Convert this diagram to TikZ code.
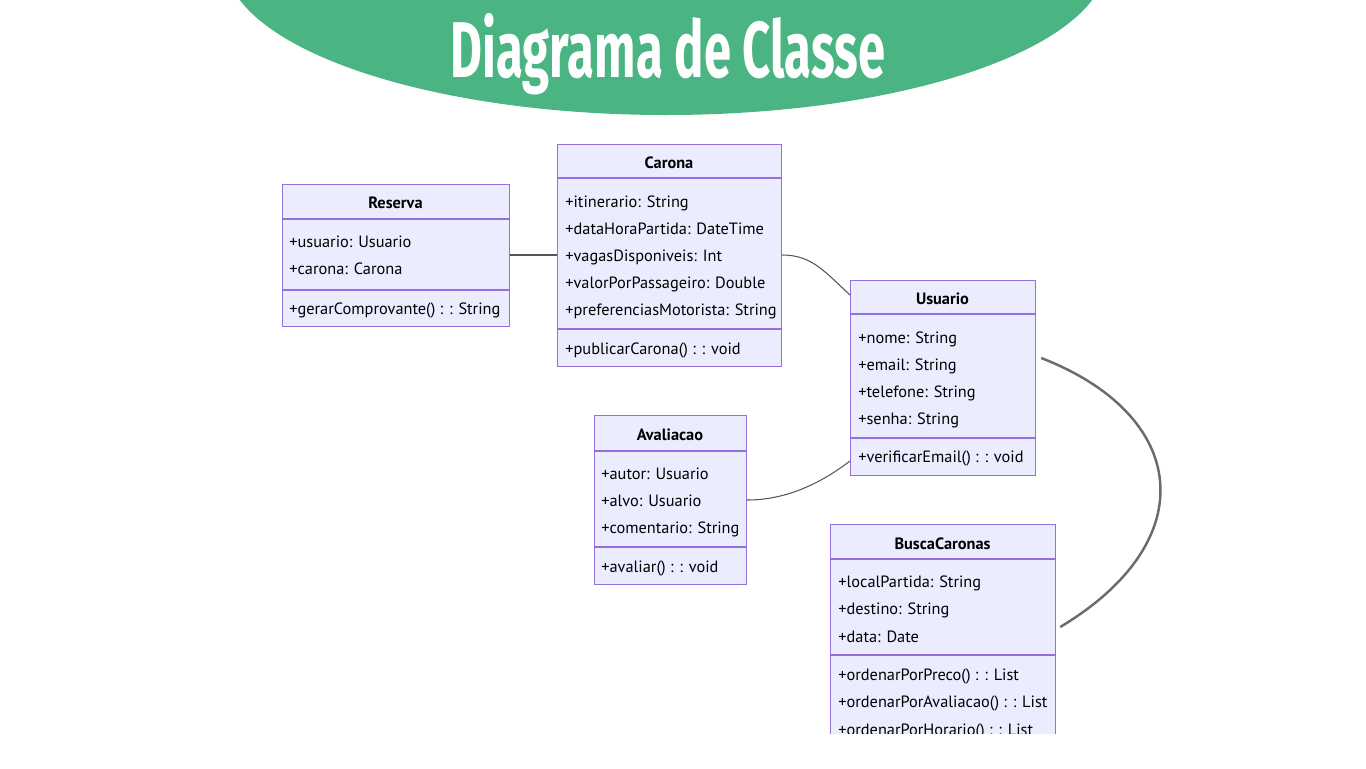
\documentclass[tikz,border=0pt]{standalone}
\usepackage{fontspec}
\setmainfont{PT Sans}
\newfontfamily\titlefont{Fira Sans}
\usetikzlibrary{positioning}

\definecolor{boxfill}{HTML}{ECECFF}
\definecolor{boxline}{HTML}{9370DB}
\definecolor{banner}{HTML}{4AB483}
\definecolor{wirecol}{HTML}{555555}
\definecolor{thickwire}{HTML}{6B6B6B}
\newcommand{\pxu}{0.02cm}

\tikzset{
  classbox/.style={draw=boxline, fill=boxfill, line width=0.7pt, inner sep=0pt, anchor=north west},
  divider/.style={draw=boxline, line width=0.7pt},
  classname/.style={anchor=base, font=\bfseries\fontsize{9.3}{11}\selectfont, inner sep=0pt},
  member/.style={anchor=base west, font=\fontsize{9.3}{11}\selectfont, inner sep=0pt},
  wire/.style={draw=wirecol, line width=0.6pt},
}

\begin{document}
\begin{tikzpicture}[x=0.02cm, y=-0.02cm]
    \useasboundingbox (0,0) rectangle (1366,768);

    % title banner
    \fill[banner] (666,-40) ellipse [x radius=441, y radius=155];
    \node[anchor=base, text=white, inner sep=0pt, font=\titlefont\bfseries\fontsize{45}{45}\selectfont] (title) at (668,77) {\scalebox{0.62}[1]{Diagrama de Classe}};

    % Reserva
    \node[classbox, minimum width=227*\pxu, minimum height=142*\pxu] (reserva) at (282,184) {};
    \node[classname] (reserva-name) at (395.5,208) {Reserva};
    \draw[divider] (reserva.west |- 0,219) -- (reserva.east |- 0,219);
    \draw[divider] (reserva.west |- 0,290) -- (reserva.east |- 0,290);
    \foreach \txt [count=\i] in {+usuario: Usuario, +carona: Carona}
        \node[member] (reserva-a\i) at (289,{247+27.5*(\i-1)}) {\txt};
    \node[member] (reserva-m1) at (289,314) {+gerarComprovante() : : String};

    % Carona
    \node[classbox, minimum width=224*\pxu, minimum height=222*\pxu] (carona) at (557,144) {};
    \node[classname] (carona-name) at (669,168) {Carona};
    \draw[divider] (carona.west |- 0,178) -- (carona.east |- 0,178);
    \draw[divider] (carona.west |- 0,329) -- (carona.east |- 0,329);
    \foreach \txt [count=\i] in {+itinerario: String, +dataHoraPartida: DateTime, +vagasDisponiveis: Int, +valorPorPassageiro: Double, +preferenciasMotorista: String}
        \node[member] (carona-a\i) at (565,{207+27.2*(\i-1)}) {\txt};
    \node[member] (carona-m1) at (565,354) {+publicarCarona() : : void};

    % Usuario
    \node[classbox, minimum width=185*\pxu, minimum height=195*\pxu] (usuario) at (850,280) {};
    \node[classname] (usuario-name) at (942.5,304) {Usuario};
    \draw[divider] (usuario.west |- 0,314) -- (usuario.east |- 0,314);
    \draw[divider] (usuario.west |- 0,438) -- (usuario.east |- 0,438);
    \foreach \txt [count=\i] in {+nome: String, +email: String, +telefone: String, +senha: String}
        \node[member] (usuario-a\i) at (858,{343+27*(\i-1)}) {\txt};
    \node[member] (usuario-m1) at (858,462) {+verificarEmail() : : void};

    % Avaliacao
    \node[classbox, minimum width=152*\pxu, minimum height=169*\pxu] (avaliacao) at (594,415) {};
    \node[classname] (avaliacao-name) at (670,440) {Avaliacao};
    \draw[divider] (avaliacao.west |- 0,451) -- (avaliacao.east |- 0,451);
    \draw[divider] (avaliacao.west |- 0,547) -- (avaliacao.east |- 0,547);
    \foreach \txt [count=\i] in {+autor: Usuario, +alvo: Usuario, +comentario: String}
        \node[member] (avaliacao-a\i) at (601,{479+27*(\i-1)}) {\txt};
    \node[member] (avaliacao-m1) at (601,572) {+avaliar() : : void};

    % BuscaCaronas (cut off at the bottom)
    \begin{scope}
        \clip (0,0) rectangle (1366,733);
        \node[classbox, minimum width=225*\pxu, minimum height=240*\pxu] (busca) at (830,524) {};
        \node[classname] (busca-name) at (942.5,549) {BuscaCaronas};
        \draw[divider] (busca.west |- 0,559) -- (busca.east |- 0,559);
        \draw[divider] (busca.west |- 0,655) -- (busca.east |- 0,655);
        \foreach \txt [count=\i] in {+localPartida: String, +destino: String, +data: Date}
            \node[member] (busca-a\i) at (838,{587+27.5*(\i-1)}) {\txt};
        \foreach \txt [count=\i] in {+ordenarPorPreco() : : List, +ordenarPorAvaliacao() : : List, +ordenarPorHorario() : : List}
            \node[member] (busca-m\i) at (838,{680+27.5*(\i-1)}) {\txt};
    \end{scope}

    % relations
    \path[wire] (reserva.east |- 0,255) edge (carona.west |- 0,255);
    \draw[wire] (carona.east |- 0,255) .. controls (812,255) and (825,272) .. (usuario.west |- 0,295);
    \draw[wire] (avaliacao.east |- 0,500) .. controls (790,500) and (825,480) .. (usuario.west |- 0,461);
    \draw[draw=thickwire, line width=1.4pt] ([xshift=5*\pxu]usuario.east |- 0,358) .. controls (1188,415) and (1205,540) .. ([xshift=4*\pxu]busca.east |- 0,627);

\end{tikzpicture}
\end{document}
